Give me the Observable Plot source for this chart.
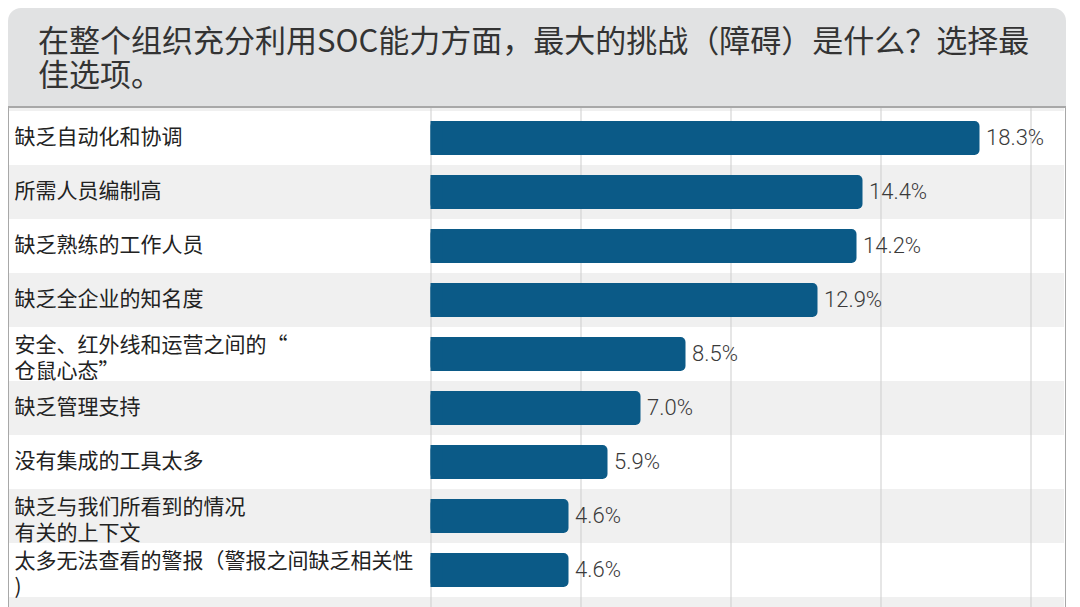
<!DOCTYPE html>
<html>
<head>
<meta charset="utf-8">
<script src="https://cdn.jsdelivr.net/npm/d3@7"></script>
<script src="https://cdn.jsdelivr.net/npm/@observablehq/plot@0.6"></script>
<style>
  html, body { margin: 0; padding: 0; background: #ffffff; }
  body { font-family: "Noto Sans CJK SC", sans-serif; }
  #wrap { position: absolute; left: 8px; top: 8px; width: 1058px; }
  #header {
    height: 100px; box-sizing: border-box;
    background: #e1e2e3; border-radius: 13px 13px 0 0;
    border-bottom: 2px solid #a8a8a8;
    padding: 14px 0 0 30px;
    font-size: 31px; line-height: 34px; color: #333333; white-space: nowrap;
  }
  #chart { border-left: 1.5px solid #a8a8a8; border-right: 1.5px solid #a8a8a8; height: 499px; overflow: hidden; }
  #chart svg { display: block; }
</style>
</head>
<body>
<div id="wrap">
  <div id="header"></div>
  <div id="chart"></div>
</div>
<script>
const titleLines = ["在整个组织充分利用SOC能力方面，最大的挑战（障碍）是什么？选择最", "佳选项。"];
const categories = [
  "缺乏自动化和协调",
  "所需人员编制高",
  "缺乏熟练的工作人员",
  "缺乏全企业的知名度",
  "安全、红外线和运营之间的“\n仓鼠心态”",
  "缺乏管理支持",
  "没有集成的工具太多",
  "缺乏与我们所看到的情况\n有关的上下文",
  "太多无法查看的警报（警报之间缺乏相关性\n)"
];
const values = [18.3, 14.4, 14.2, 12.9, 8.5, 7.0, 5.9, 4.6, 4.6];
const gridTicks = [0, 5, 10, 15, 20];

const header = document.getElementById("header");
titleLines.forEach((t, i) => {
  if (i) header.appendChild(document.createElement("br"));
  header.appendChild(document.createTextNode(t));
});

const data = categories.map((c, i) => ({label: c, value: values[i], idx: i}));
const single = data.filter(d => !d.label.includes("\n"));
const multi = data.filter(d => d.label.includes("\n"));

const W = 1055, H = 499;
const chart = Plot.plot({
  width: W,
  height: H,
  marginLeft: 0, marginRight: 0, marginTop: 0, marginBottom: 0,
  style: {fontFamily: "'Noto Sans CJK SC', sans-serif", background: "#f0f0f0"},
  x: {domain: [0, 20], range: [421.5, 1021.5], axis: null},
  y: {domain: categories, range: [0, 492], padding: 0, axis: null},
  marks: [
    Plot.cell(data.filter(d => d.idx % 2 === 0), {y: "label", fill: "#ffffff"}),
    Plot.ruleX(gridTicks, {stroke: "#cdcdcd", strokeWidth: 1}),
    Plot.barX(data, {y: "label", x: "value", fill: "#0b5a87", rx: 5, insetTop: 10, insetBottom: 10}),
    Plot.barX(data, {y: "label", x1: () => 0, x2: d => Math.min(d.value, 0.4), fill: "#0b5a87", insetTop: 10, insetBottom: 10}),
    Plot.text(data, {
      y: "label", x: "value", text: d => d.value.toFixed(1) + "%",
      dx: 6, dy: -1, textAnchor: "start", fontSize: 22, fill: "#3a3a3a", fontWeight: 300,
      fontFamily: "Roboto, sans-serif", ariaLabel: "vals"
    }),
    Plot.text(single, {
      y: "label", text: "label", frameAnchor: "left", dx: 5, dy: -1, textAnchor: "start",
      fontSize: 21, fill: "#222222"
    }),
    Plot.text(multi, {
      y: "label", text: "label", frameAnchor: "left", dx: 5, dy: 2, textAnchor: "start",
      fontSize: 21, fill: "#222222", lineHeight: 1.26
    })
  ]
});
document.getElementById("chart").appendChild(chart);
// condense the value labels to mimic the reference's narrow typeface
d3.select(chart).selectAll('g[aria-label="vals"] text').each(function() {
  const w = this.getComputedTextLength();
  this.setAttribute("textLength", (w * 0.72).toFixed(1));
  this.setAttribute("lengthAdjust", "spacingAndGlyphs");
});
</script>
</body>
</html>
